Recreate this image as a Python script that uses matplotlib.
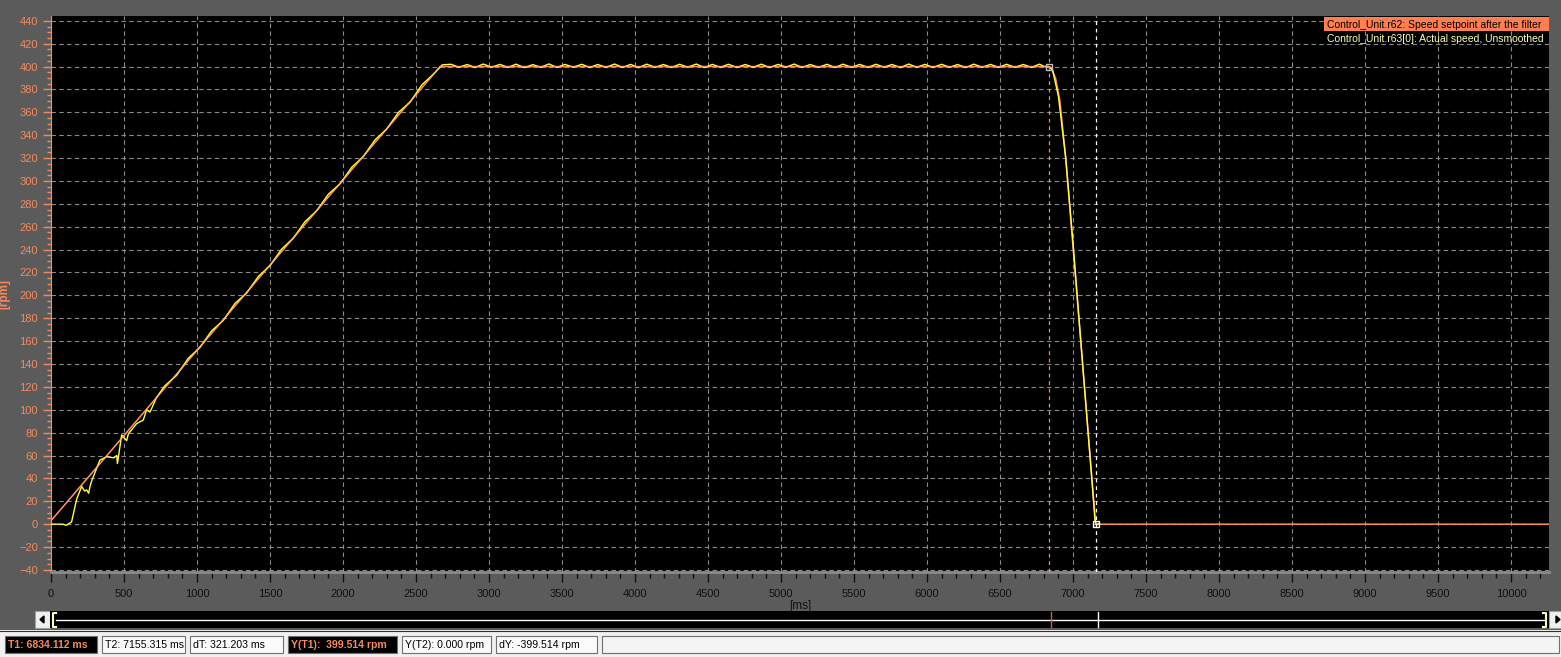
import numpy as np
import matplotlib
matplotlib.use("Agg")
import matplotlib.pyplot as plt
from matplotlib.patches import Rectangle, Polygon
from matplotlib.ticker import MultipleLocator

plt.rcParams['font.family'] = ['Liberation Sans', 'DejaVu Sans']

# setpoint after the filter (r62)
sp_t = [0, 2665, 6834, 6850, 6880, 6910, 6950, 7155, 10260]
sp_v = [3, 400, 400, 399, 390, 370, 320, 0, 0]

# actual speed, unsmoothed (r63) - ramp part
act_t_ramp = [0, 40, 82, 105, 141, 176, 210, 230, 244, 258, 267, 279, 335, 381, 430, 450,
              455, 484, 518, 530, 587, 632, 655, 678, 724,
              780, 860, 940, 1020, 1100, 1180, 1260, 1340, 1420, 1500, 1580, 1660, 1740,
              1820, 1900, 1980, 2060, 2140, 2220, 2300, 2380, 2460, 2540, 2620, 2680]
act_v_ramp = [0, 0, 0, -1, 2, 22, 33, 29, 30, 27, 33, 38, 56, 59, 58, 60,
              53, 78, 73, 79, 88, 91, 100, 98, 111,
              121, 130, 145, 154.5, 169, 178, 193, 202, 216.5, 226, 240.5, 250, 264.5,
              274, 288.5, 297.5, 312, 321.5, 336, 345.5, 360, 369, 384, 393.5, 401.5]

# actual speed - constant speed ripple (peak / trough pairs)
act_t_flat = [2740, 2795, 2850, 2905, 2960, 3018, 3075, 3130, 3185, 3242, 3300, 3355,
              3410, 3465, 3520, 3578, 3635, 3690, 3745, 3802, 3860, 3915, 3970, 4025,
              4080, 4138, 4195, 4250, 4305, 4362, 4420, 4475, 4530, 4585, 4640, 4698,
              4755, 4810, 4865, 4922, 4980, 5035, 5090, 5145, 5200, 5258, 5315, 5370,
              5425, 5482, 5540, 5595, 5650, 5705, 5760, 5818, 5875, 5930, 5985, 6042,
              6100, 6155, 6210, 6265, 6320, 6378, 6435, 6490, 6545, 6602, 6660, 6715,
              6770, 6805]
act_v_flat = [402.0, 399.3, 401.8, 399.1, 402.2, 399.4, 401.9, 399.2, 402.1, 399.0, 401.7, 399.3,
              402.3, 399.2, 401.9, 399.4, 402.0, 399.1, 401.8, 399.3, 402.2, 399.2, 401.9, 399.0,
              402.1, 399.3, 401.8, 399.2, 402.0, 399.4, 402.2, 399.1, 401.9, 399.3, 402.0, 399.2,
              401.8, 399.3, 402.1, 399.1, 401.9, 399.4, 402.2, 399.2, 401.8, 399.3, 402.0, 399.1,
              402.1, 399.3, 401.9, 399.2, 402.0, 399.4, 401.8, 399.1, 402.2, 399.3, 401.9, 399.2,
              402.0, 399.3, 401.8, 399.1, 402.1, 399.4, 401.9, 399.2, 402.0, 399.3, 401.8, 399.2,
              402.1, 400.0]

# actual speed - braking
act_t_dec = [6834, 6860, 6900, 6950, 7000, 7050, 7100, 7130, 7150, 7160, 7175]
act_v_dec = [400, 397, 374, 320, 246, 166, 87, 37, 4, -1, 0.5]

t1, t2 = 6834.112, 7155.315
status = ["T1: 6834.112 ms", "T2: 7155.315 ms", "dT: 321.203 ms",
          "Y(T1):  399.514 rpm", "Y(T2): 0.000 rpm", "dY: -399.514 rpm"]
legend_labels = ["Control_Unit.r62: Speed setpoint after the filter",
                 "Control_Unit.r63[0]: Actual speed, Unsmoothed"]

W, H = 1561, 657
bg = '#5b5b5b'
orange = '#f58a5c'
yellow = '#ffff3a'
sp_col = '#ff8c60'

fig = plt.figure(figsize=(W / 100, H / 100), dpi=100, facecolor=bg)

def px(x0, y0, x1, y1):
    return [x0 / W, 1 - y1 / H, (x1 - x0) / W, (y1 - y0) / H]

ax = fig.add_axes(px(51, 16, 1549, 572))
ax.set_facecolor('black')
ax.set_xlim(0, 10260)
ax.set_ylim(-41.8, 444.2)

ax.xaxis.set_major_locator(MultipleLocator(500))
ax.xaxis.set_minor_locator(MultipleLocator(100))
ax.yaxis.set_major_locator(MultipleLocator(20))
ax.yaxis.set_minor_locator(MultipleLocator(5))
ax.grid(True, which='major', color='#8a8a8a', linestyle=(0, (4, 3)), linewidth=0.8)

ax.tick_params(axis='y', which='both', colors=orange, labelsize=8, direction='out')
ax.tick_params(axis='y', which='major', length=6, width=1)
ax.tick_params(axis='y', which='minor', length=3, width=1)
ax.tick_params(axis='x', which='both', colors='#111111', labelsize=8, direction='out')
ax.tick_params(axis='x', which='major', length=7, width=1, pad=5)
ax.tick_params(axis='x', which='minor', length=4, width=1)
ax.spines['left'].set_color(orange)
ax.spines['bottom'].set_color('#8c8c8c')
ax.spines['bottom'].set_linewidth(2)
ax.spines['top'].set_visible(False)
ax.spines['right'].set_visible(False)
ax.set_xlabel('[ms]', fontsize=8.5, color='#111111', labelpad=1)
ax.set_ylabel('[rpm]', fontsize=8.5, color=orange, fontweight='bold', labelpad=6)

ax.plot(sp_t, sp_v, color=sp_col, lw=1.1, zorder=3)
ax.plot(act_t_ramp + act_t_flat + act_t_dec, act_v_ramp + act_v_flat + act_v_dec,
        color=yellow, lw=1.0, zorder=4)
ax.plot(sp_t[:3], sp_v[:3], color=sp_col, lw=0.7, alpha=0.7, zorder=5)

ax.axvline(t1, color=orange, lw=0.9, linestyle=(0, (3, 3)), zorder=6)
ax.axvline(t2, color='white', lw=0.9, linestyle=(0, (3, 3)), zorder=6)
ax.plot([t1], [399.5], marker='s', ms=5, mfc='none', mec='#c0c0c0', zorder=7)
ax.plot([t2], [0], marker='s', ms=5, mfc='none', mec='white', zorder=7)

# overlay in pixel coordinates for legend, scroll bar and status bar
ov = fig.add_axes([0, 0, 1, 1], zorder=10)
ov.set_xlim(0, W)
ov.set_ylim(H, 0)
ov.axis('off')
ov.patch.set_alpha(0)

ov.add_patch(Rectangle((1324, 17), 225, 14, facecolor='#ff7f50', edgecolor='none'))
ov.text(1327, 24.5, legend_labels[0], fontsize=7.5, color='black', va='center', ha='left')
ov.text(1327, 39, legend_labels[1], fontsize=7.5, color='#ffffb0', va='center', ha='left')

# scroll bar
ov.add_patch(Rectangle((35, 611), 15, 17, facecolor='#f0f0f0', edgecolor='#a0a0a0', lw=0.8))
ov.add_patch(Rectangle((1549, 611), 12, 17, facecolor='#f0f0f0', edgecolor='#a0a0a0', lw=0.8))
ov.add_patch(Polygon([[44, 616], [40, 619.5], [44, 623]], closed=True, color='black'))
ov.add_patch(Polygon([[1556, 616], [1560, 619.5], [1556, 623]], closed=True, color='black'))
ov.add_patch(Rectangle((50, 611), 1499, 17, facecolor='black', edgecolor='none'))
ov.plot([56, 1545], [620, 620], color='white', lw=1)
ov.plot([56, 53, 53, 56], [613, 613, 627, 627], color='#ffffc0', lw=1.5)
ov.plot([1543, 1546, 1546, 1543], [613, 613, 627, 627], color='#ffffc0', lw=1.5)
ov.plot([1051, 1051], [612, 627], color='#d06040', lw=1)
ov.plot([1098, 1098], [612, 627], color='white', lw=1)

# status bar
ov.add_patch(Rectangle((0, 630), W, 27, facecolor='#f0f0f0', edgecolor='none'))
ov.plot([0, W], [631, 631], color='#303030', lw=0.8)
boxes = [(5, 97), (102, 185), (190, 283), (288, 397), (402, 491), (496, 597)]
for i, (x0, x1) in enumerate(boxes):
    dark = i in (0, 3)
    ov.add_patch(Rectangle((x0, 636), x1 - x0, 17, facecolor='black' if dark else '#fafafa',
                           edgecolor='#707070', lw=0.8))
    ov.text(x0 + 3, 645, status[i], fontsize=7.6, color=orange if dark else 'black',
            va='center', ha='left', fontweight='bold' if dark else 'normal')
ov.add_patch(Rectangle((602, 636), W - 604, 17, facecolor='#f4f4f4', edgecolor='#707070', lw=0.8))

fig.savefig('out.png', dpi=100, facecolor=bg)
